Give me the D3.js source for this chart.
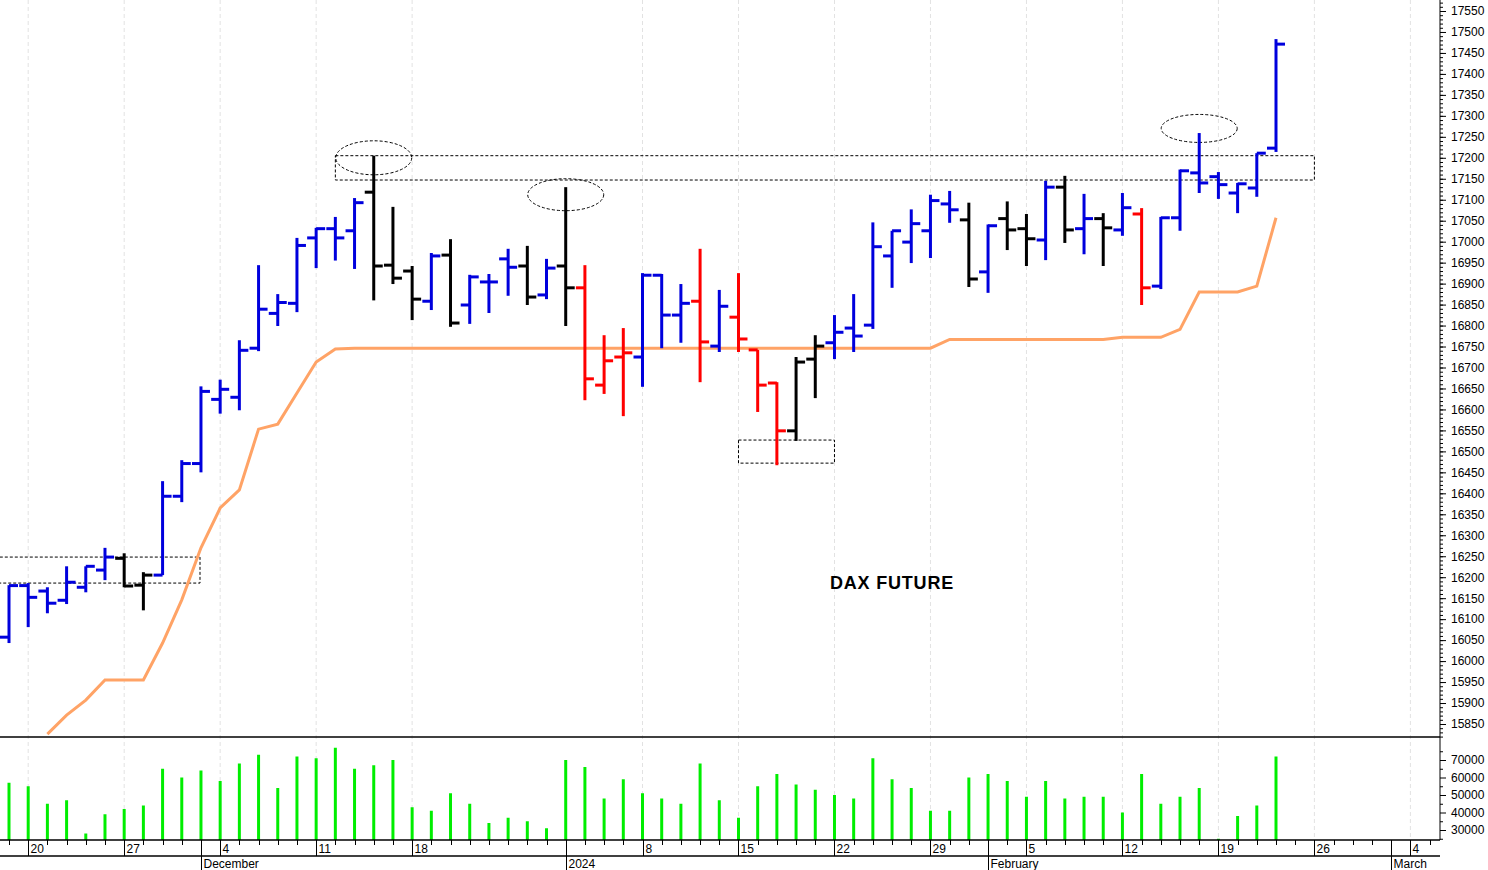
<!DOCTYPE html>
<html><head><meta charset="utf-8">
<script src="https://cdn.jsdelivr.net/npm/d3@7"></script>
<style>body{margin:0;background:#fff}svg{display:block;font-family:"Liberation Sans",Arial,sans-serif}</style>
</head><body><svg id="c" width="1488" height="870"></svg>
<script>
// trading-day slots (bars 0..66 have data; later slots are empty axis space)
const dates = ["2023-11-17","2023-11-20","2023-11-21","2023-11-22","2023-11-23","2023-11-24","2023-11-27","2023-11-28","2023-11-29","2023-11-30","2023-12-01",
"2023-12-04","2023-12-05","2023-12-06","2023-12-07","2023-12-08","2023-12-11","2023-12-12","2023-12-13","2023-12-14","2023-12-15",
"2023-12-18","2023-12-19","2023-12-20","2023-12-21","2023-12-22","2023-12-27","2023-12-28","2023-12-29",
"2024-01-02","2024-01-03","2024-01-04","2024-01-05","2024-01-08","2024-01-09","2024-01-10","2024-01-11","2024-01-12",
"2024-01-15","2024-01-16","2024-01-17","2024-01-18","2024-01-19","2024-01-22","2024-01-23","2024-01-24","2024-01-25","2024-01-26",
"2024-01-29","2024-01-30","2024-01-31","2024-02-01","2024-02-02","2024-02-05","2024-02-06","2024-02-07","2024-02-08","2024-02-09",
"2024-02-12","2024-02-13","2024-02-14","2024-02-15","2024-02-16","2024-02-19","2024-02-20","2024-02-21","2024-02-22",
"2024-02-23","2024-02-26","2024-02-27","2024-02-28","2024-02-29","2024-03-01","2024-03-04","2024-03-05"];
const opens  = [16057,16180,16167,16145,16176,16217,16245,16181,16205,16393,16471,16624,16629,16746,16829,16853,17009,17031,17026,17118,16944,16930,16858,16968,16849,16904,16959,16942,16873,16942,16890,16658,16725,16725,16920,16825,16858,16751,16820,16742,16663,16549,16720,16759,16794,16801,16966,16999,17026,17090,17052,16928,17055,17031,17004,17130,17031,17055,17028,17066,16894,17057,17164,17155,17116,17128,17223];
const highs  = [16181,16186,16176,16226,16226,16270,16257,16212,16429,16479,16655,16671,16765,16944,16875,17009,17033,17059,17104,17205,17083,16942,16973,17006,16921,16923,16983,16990,16959,17130,16944,16777,16794,16925,16923,16899,16983,16885,16925,16742,16665,16725,16777,16825,16875,17046,17026,17077,17112,17121,17093,17041,17096,17066,17145,17157,17114,17068,17116,17080,17059,17172,17259,17166,17140,17211,17483];
const lows   = [16043,16081,16114,16136,16164,16193,16176,16121,16205,16379,16450,16590,16598,16739,16799,16832,16937,16955,16935,16860,16899,16813,16837,16797,16804,16830,16871,16849,16863,16799,16622,16637,16584,16654,16746,16759,16665,16737,16737,16594,16467,16525,16627,16720,16737,16792,16890,16949,16961,17045,16892,16878,16980,16942,16956,16997,16970,16942,17014,16849,16887,17026,17116,17102,17068,17107,17214];
const closes = [16180,16152,16138,16188,16226,16248,16179,16205,16393,16471,16643,16648,16741,16839,16855,16991,17031,17009,17093,16942,16913,16863,16966,16806,16916,16904,16939,16868,16937,16890,16673,16716,16735,16920,16825,16853,16761,16846,16768,16658,16549,16713,16751,16784,16775,16988,17026,17043,17098,17076,16911,17038,17028,17007,17130,17028,17055,17033,17081,16890,17057,17169,17140,17136,17138,17211,17471];
const trend  = ["u","u","u","u","u","u","n","n","u","u","u","u","u","u","u","u","u","u","u","n","n","n","u","n","u","u","u","n","u","n","d","d","d","u","u","u","d","u","d","d","d","n","n","u","u","u","u","u","u","u","n","u","n","n","u","n","u","n","u","d","u","u","u","u","u","u","u"];
const volumes = [57000,55000,45000,47000,28000,39000,42000,44000,65000,60000,64000,58000,68000,73000,54000,72000,71000,77000,65000,67000,70000,43000,41000,51000,45000,34000,37000,35000,31000,70000,66000,48000,59000,51000,48000,45000,68000,47000,37000,55000,62000,56000,53000,50000,48000,71000,59000,54000,41000,41000,60000,62000,58000,49000,58000,48000,49000,49000,40000,62000,45000,49000,54000,25000,38000,44000,72000];
const stopLine = [null,null,15826,15871,15907,15955,15955,15955,16043,16146,16270,16365,16408,16553,16565,16639,16713,16744,16746,16746,16746,16746,16746,16746,16746,16746,16746,16746,16746,16746,16746,16746,16746,16746,16746,16746,16746,16746,16746,16746,16746,16746,16746,16746,16746,16746,16746,16746,16746,16767,16767,16767,16767,16767,16767,16767,16767,16767,16772,16772,16772,16791,16880,16880,16880,16894,17057];
const priceTicks = d3.range(15850, 17551, 50);
const volumeTicks = [30000,40000,50000,60000,70000];
const monthLabels = [["2023-12-01","December"],["2024-01-02","2024"],["2024-02-01","February"],["2024-03-01","March"]];
const zones = [{i0:-1,i1:9.95,lo:16186,hi:16248},{i0:17.0,i1:68.0,lo:17147,hi:17205},{i0:38.0,i1:43.0,lo:16472,hi:16527}];
const rings = [{i:19,p:17200,rx:38,ry:17},{i:29,p:17112,rx:38,ry:16},{i:62,p:17270,rx:38,ry:14}];

const svg = d3.select("#c");
const x = d3.scaleLinear().domain([0,66]).range([9,1276]);
const y = d3.scaleLinear().domain([15850,17550]).range([724,11]);
const yv = d3.scaleLinear().domain([30000,70000]).range([830,760]);
const AX = 1440, PB = 737, VB = 840;
const colors = {u:"#0000dd", n:"#000000", d:"#ff0000"};

// grid
dates.forEach((d,i)=>{
  const dt = new Date(d);
  if (dt.getUTCDay()===1) {
    svg.append("line").attr("x1",x(i)).attr("x2",x(i)).attr("y1",0).attr("y2",VB)
      .attr("stroke","#e2e2e2").attr("stroke-dasharray","4,3");
  }
});
svg.append("defs").append("clipPath").attr("id","pc").append("rect").attr("x",0).attr("y",0).attr("width",AX).attr("height",PB);
const pg = svg.append("g").attr("clip-path","url(#pc)");

// zones
zones.forEach(z=>{
  pg.append("rect").attr("x",x(z.i0)).attr("width",x(z.i1)-x(z.i0)).attr("y",y(z.hi)).attr("height",y(z.lo)-y(z.hi))
    .attr("fill","none").attr("stroke","#000").attr("stroke-dasharray","3,2");
});
rings.forEach(r=>{
  pg.append("ellipse").attr("cx",x(r.i)).attr("cy",y(r.p)).attr("rx",r.rx).attr("ry",r.ry)
    .attr("fill","none").attr("stroke","#000").attr("stroke-dasharray","3,2");
});

// stop line
const line = d3.line().defined(d=>d!=null).x((d,i)=>x(i)).y(d=>y(d));
pg.append("path").datum(stopLine).attr("d",line).attr("fill","none").attr("stroke","#ffa366").attr("stroke-width",3);

// OHLC
opens.forEach((o,i)=>{
  const c = colors[trend[i]], g = pg.append("g").attr("stroke",c).attr("stroke-width",3);
  g.append("line").attr("x1",x(i)).attr("x2",x(i)).attr("y1",y(highs[i])).attr("y2",y(lows[i]));
  g.append("line").attr("x1",x(i)-9).attr("x2",x(i)).attr("y1",y(o)).attr("y2",y(o));
  g.append("line").attr("x1",x(i)).attr("x2",x(i)+9).attr("y1",y(closes[i])).attr("y2",y(closes[i]));
});

svg.append("text").attr("x",830).attr("y",589).attr("font-size",18).attr("font-weight","bold").attr("letter-spacing",0.8).text("DAX FUTURE");

// volume
volumes.forEach((v,i)=>{
  svg.append("line").attr("x1",x(i)).attr("x2",x(i)).attr("y1",VB).attr("y2",yv(v)).attr("stroke","#00ee00").attr("stroke-width",3);
});

// frame lines
svg.append("line").attr("x1",0).attr("x2",AX).attr("y1",PB).attr("y2",PB).attr("stroke","#000").attr("stroke-width",1.5);
svg.append("line").attr("x1",AX).attr("x2",AX).attr("y1",0).attr("y2",VB).attr("stroke","#000");
svg.append("line").attr("x1",0).attr("x2",AX).attr("y1",VB).attr("y2",VB).attr("stroke","#000").attr("stroke-width",1.5);
svg.append("line").attr("x1",0).attr("x2",AX).attr("y1",856).attr("y2",856).attr("stroke","#000").attr("stroke-width",1.5);

// price axis
const pa = svg.append("g").attr("transform",`translate(${AX},0)`);
pa.call(d3.axisRight(y).tickValues(d3.range(15820,17571,10)).tickSize(3).tickFormat(""));
pa.call(g=>g.select(".domain").remove());
const pa2 = svg.append("g").attr("transform",`translate(${AX},0)`).call(d3.axisRight(y).tickValues(priceTicks).tickSize(6).tickPadding(5).tickFormat(d3.format("d")));
pa2.select(".domain").remove();
pa2.selectAll("text").attr("font-size",12).attr("font-family","Liberation Sans, Arial").attr("fill","#000");
svg.selectAll(".tick line").attr("stroke","#000");

// volume axis
const va = svg.append("g").attr("transform",`translate(${AX},0)`).call(d3.axisRight(yv).tickValues([25000,35000,45000,55000,65000,75000]).tickSize(3).tickFormat(""));
va.select(".domain").remove();
const va2 = svg.append("g").attr("transform",`translate(${AX},0)`).call(d3.axisRight(yv).tickValues(volumeTicks).tickSize(6).tickPadding(5).tickFormat(d3.format("d")));
va2.select(".domain").remove();
va2.selectAll("text").attr("font-size",12).attr("font-family","Liberation Sans, Arial").attr("fill","#000");
svg.selectAll(".tick line").attr("stroke","#000");

// date axis
dates.forEach((d,i)=>{
  const xi = Math.round(x(i))+0.5;
  if (xi>AX) return;
  const dt = new Date(d);
  if (dt.getUTCDay()===1) {
    svg.append("line").attr("x1",xi).attr("x2",xi).attr("y1",VB).attr("y2",856).attr("stroke","#000");
    svg.append("text").attr("x",xi+2).attr("y",853).attr("font-size",12).text(dt.getUTCDate());
  } else {
    svg.append("line").attr("x1",xi).attr("x2",xi).attr("y1",VB).attr("y2",VB+5).attr("stroke","#000");
  }
});
monthLabels.forEach(([d,l])=>{
  const xi = Math.round(x(dates.indexOf(d)))+0.5;
  svg.append("line").attr("x1",xi).attr("x2",xi).attr("y1",VB).attr("y2",870).attr("stroke","#000");
  svg.append("text").attr("x",xi+2).attr("y",868).attr("font-size",12).text(l);
});
</script></body></html>
